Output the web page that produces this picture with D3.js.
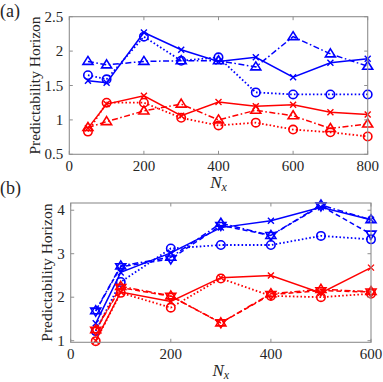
<!DOCTYPE html>
<html><head><meta charset="utf-8">
<script src="https://cdn.jsdelivr.net/npm/d3@7"></script>
<style>
body{margin:0;background:#fff;}
svg{display:block;}
svg text{font-family:"Liberation Serif","Times New Roman",serif !important;}
</style>
</head><body>
<script>
// ---- Panel (a) data ----
const xA = [50,100,200,300,400,500,600,700,800];
const aBlueSolid  = [1.57,1.54,2.27,2.02,1.85,1.91,1.62,1.83,1.89];
const aBlueDotted = [1.65,1.59,2.21,1.86,1.91,1.40,1.37,1.37,1.37];
const aBlueDashDot= [1.85,1.80,1.85,1.86,1.86,1.77,2.21,1.96,1.78];
const aRedSolid   = [0.88,1.23,1.35,1.06,1.26,1.20,1.22,1.11,1.08];
const aRedDotted  = [0.83,1.25,1.25,1.03,0.92,0.96,0.86,0.82,0.76];
const aRedDashDot = [0.89,0.975,1.13,1.23,1.00,1.14,1.06,0.875,0.94];
const xTicksA = [0,200,400,600,800];
const yTicksA = [0.5,1,1.5,2,2.5];
const yTickLabelsA = ["0.5","1","1.5","2","2.5"];

// ---- Panel (b) data ----
const xB = [50,100,200,300,400,500,600];
const bBlueSolid   = [1.40,2.57,3.02,3.60,3.76,4.07,3.78];
const bBlueDotted  = [1.22,2.35,3.12,3.20,3.20,3.41,3.33];
const bBlueDashDot = [1.69,2.72,2.92,3.70,3.42,4.12,3.78];
const bBlueDashed  = [1.68,2.70,2.88,3.65,3.42,4.10,3.45];
const bRedSolid    = [1.00,2.12,1.90,2.45,2.50,2.10,2.68];
const bRedDotted   = [0.99,2.10,1.76,2.43,2.03,2.00,2.08];
const bRedDashDot  = [1.25,2.25,2.03,1.41,2.08,2.18,2.13];
const bRedDashed   = [1.24,2.22,2.02,1.41,2.06,2.15,2.12];
const xTicksB = [0,200,400,600];
const yTicksB = [1,2,3,4];

const W=383,H=382;
const svg = d3.select("body").append("svg").attr("width",W).attr("height",H)
  .style("font-family",'"Liberation Serif"');
const BLUE="#0000ff", RED="#ff0000", AX="#8f8f8f", TXT="#262626";
const dashes = {solid:null, dotted:"1.6,2.2", dashdot:"6,2.5,1.6,2.5", dashed:"5,3"};

function marker(g, type, x, y, color){
  if(type==="x"){
    const s=3;
    g.append("path").attr("d",`M${x-s},${y-s}L${x+s},${y+s}M${x-s},${y+s}L${x+s},${y-s}`)
      .attr("stroke",color).attr("stroke-width",1.4).attr("fill","none");
  } else if(type==="o"){
    g.append("circle").attr("cx",x).attr("cy",y).attr("r",4.2)
      .attr("stroke",color).attr("stroke-width",1.6).attr("fill","none");
  } else if(type==="tu"){
    const s=5;
    g.append("path").attr("d",`M${x},${y-s}L${x+s},${y+s*0.6}L${x-s},${y+s*0.6}Z`)
      .attr("stroke",color).attr("stroke-width",1.6).attr("fill","none");
  } else if(type==="td"){
    const s=5;
    g.append("path").attr("d",`M${x},${y+s}L${x+s},${y-s*0.6}L${x-s},${y-s*0.6}Z`)
      .attr("stroke",color).attr("stroke-width",1.6).attr("fill","none");
  }
}

function txt(sel){ return sel.style("font-family",'"Liberation Serif"').attr("fill",TXT); }

function panel(opt){
  const {xs, series, xDom, yDom, L, R, T, B, xTicks, yTicks, yLabels, label, labelY, nxY, ylabX} = opt;
  const x = d3.scaleLinear().domain(xDom).range([L,R]);
  const y = d3.scaleLinear().domain(yDom).range([B,T]);
  const g = svg.append("g");
  series.forEach(s=>{
    const line = d3.line().x((d,i)=>x(xs[i])).y(d=>y(d));
    g.append("path").datum(s.v).attr("d",line).attr("fill","none")
      .attr("stroke",s.c).attr("stroke-width",s.ls==="dotted"?1.8:1.5)
      .attr("stroke-dasharray",dashes[s.ls]);
    s.v.forEach((v,i)=>marker(g,s.m,x(xs[i]),y(v),s.c));
  });
  g.append("rect").attr("x",L).attr("y",T).attr("width",R-L).attr("height",B-T)
    .attr("fill","none").attr("stroke",AX).attr("stroke-width",1.1);
  const ax = g.append("g");
  xTicks.forEach(t=>{
    ax.append("line").attr("x1",x(t)).attr("x2",x(t)).attr("y1",B).attr("y2",B-3.5).attr("stroke",AX);
    ax.append("line").attr("x1",x(t)).attr("x2",x(t)).attr("y1",T).attr("y2",T+3.5).attr("stroke",AX);
    txt(ax.append("text")).attr("x",x(t)).attr("y",B+17).attr("text-anchor","middle").style("font-size","15px").text(t);
  });
  yTicks.forEach((t,i)=>{
    ax.append("line").attr("y1",y(t)).attr("y2",y(t)).attr("x1",L).attr("x2",L+3.5).attr("stroke",AX);
    ax.append("line").attr("y1",y(t)).attr("y2",y(t)).attr("x1",R).attr("x2",R-3.5).attr("stroke",AX);
    txt(ax.append("text")).attr("x",L-6).attr("y",y(t)+5).attr("text-anchor","end").style("font-size","15px").text(yLabels[i]);
  });
  const nx = txt(svg.append("text")).attr("x",(L+R)/2).attr("y",nxY).attr("text-anchor","middle").style("font-size","17px");
  nx.append("tspan").style("font-style","italic").text("N");
  nx.append("tspan").style("font-style","italic").style("font-size","12px").attr("dy",3).text("x");
  txt(svg.append("text")).attr("transform",`translate(${ylabX},${(T+B)/2}) rotate(-90)`)
    .attr("text-anchor","middle").style("font-size","15.5px").text("Predictability Horizon");
  txt(svg.append("text")).attr("x",0).attr("y",labelY).style("font-size","18px").text(label);
}

panel({xs:xA, series:[
  {v:aBlueSolid,c:BLUE,ls:"solid",m:"x"},
  {v:aBlueDotted,c:BLUE,ls:"dotted",m:"o"},
  {v:aBlueDashDot,c:BLUE,ls:"dashdot",m:"tu"},
  {v:aRedSolid,c:RED,ls:"solid",m:"x"},
  {v:aRedDotted,c:RED,ls:"dotted",m:"o"},
  {v:aRedDashDot,c:RED,ls:"dashdot",m:"tu"}],
  xDom:[0,800], yDom:[0.5,2.5], L:69.3, R:367.7, T:16.7, B:154.3,
  xTicks:xTicksA, yTicks:yTicksA, yLabels:yTickLabelsA, label:"(a)", labelY:17, nxY:188, ylabX:40});

panel({xs:xB, series:[
  {v:bBlueSolid,c:BLUE,ls:"solid",m:"x"},
  {v:bBlueDotted,c:BLUE,ls:"dotted",m:"o"},
  {v:bBlueDashDot,c:BLUE,ls:"dashdot",m:"tu"},
  {v:bBlueDashed,c:BLUE,ls:"dashed",m:"td"},
  {v:bRedSolid,c:RED,ls:"solid",m:"x"},
  {v:bRedDotted,c:RED,ls:"dotted",m:"o"},
  {v:bRedDashDot,c:RED,ls:"dashdot",m:"tu"},
  {v:bRedDashed,c:RED,ls:"dashed",m:"td"}],
  xDom:[0,600], yDom:[0.963,4.166], L:70.7, R:371, T:203, B:342.3,
  xTicks:xTicksB, yTicks:yTicksB, yLabels:yTicksB.map(String), label:"(b)", labelY:194, nxY:376, ylabX:52});
</script>
</body></html>
